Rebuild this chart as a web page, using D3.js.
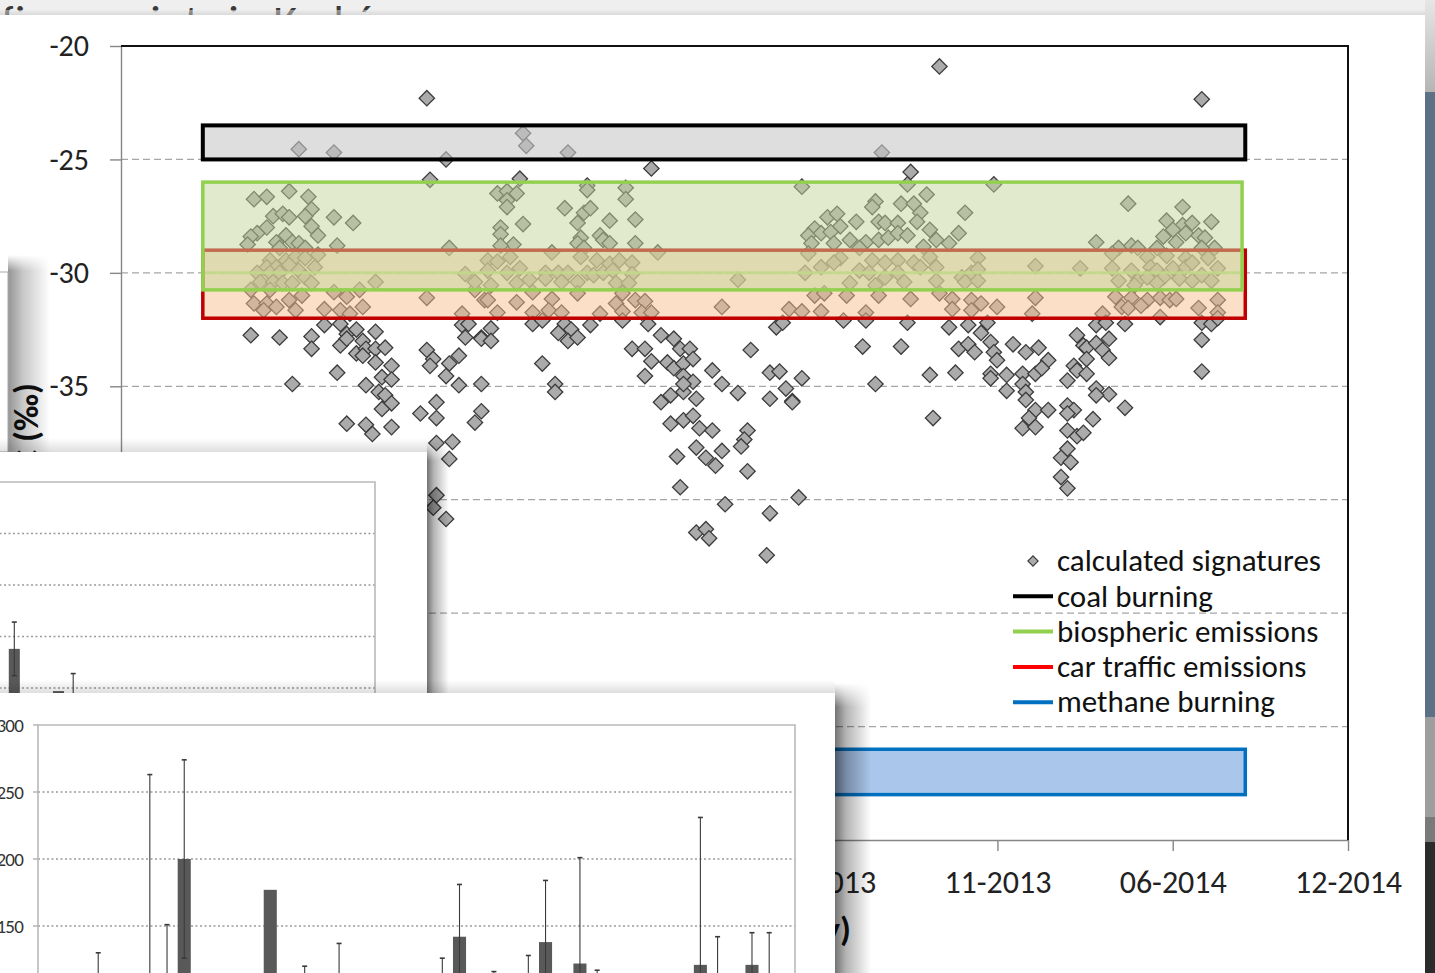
<!DOCTYPE html>
<html><head><meta charset="utf-8">
<script src="https://cdn.jsdelivr.net/npm/d3@7"></script>
<style>
html,body{margin:0;padding:0;background:#efefef;overflow:hidden}
svg{display:block}
text{font-family:Carlito,Calibri,Lato,sans-serif}
</style></head><body>
<svg id="page" width="1435" height="973"></svg>
<script>
// ---------------- data ----------------
const yTicks = [-20, -25, -30, -35, -40, -45, -50, -55];
const xTickDates = ["2011-02-19", "2011-09-07", "2012-03-25", "2012-10-11",
                    "2013-04-29", "2013-11-15", "2014-06-03", "2014-12-20"];

// calculated source signatures: [decimal year, δ13C ‰]
const signatures = [
 [2012.09,-22.3],[2011.69,-24.55],[2011.80,-24.7],[2012.15,-25.0],[2012.10,-25.9],
 [2011.55,-26.75],[2011.59,-26.65],[2011.66,-26.4],[2011.72,-26.65],[2011.73,-27.2],[2011.61,-27.5],[2011.64,-27.4],[2011.66,-27.55],[2011.71,-27.5],[2011.73,-27.95],[2011.75,-28.35],[2011.80,-27.55],[2011.86,-27.8],[2011.59,-28.0],[2011.56,-28.25],[2011.54,-28.4],[2011.53,-28.75],[2011.65,-28.35],[2011.62,-28.65],[2011.67,-28.65],[2011.69,-28.7],[2011.71,-28.9],[2011.81,-28.8],[2011.63,-28.9],[2012.16,-28.9],
 [2011.75,-29.2],[2011.60,-29.45],[2011.65,-29.45],[2011.68,-29.3],[2011.71,-29.35],[2011.59,-29.75],[2011.62,-29.75],[2011.66,-29.65],[2011.69,-29.9],[2011.74,-29.75],[2011.56,-30.0],[2011.60,-30.0],[2011.63,-30.0],[2011.71,-30.2],[2011.93,-30.4],[2012.21,-30.05],[2011.57,-30.4],[2011.61,-30.4],[2011.64,-30.45],[2011.67,-30.45],[2011.73,-30.45],[2011.54,-30.75],[2011.60,-30.75],[2011.80,-30.85],[2011.88,-30.75],[2012.24,-30.75],
 [2011.55,-31.35],[2011.59,-31.35],[2011.62,-31.5],[2011.66,-31.2],[2011.68,-31.65],[2011.58,-31.65],[2011.70,-31.0],[2011.77,-31.6],[2011.82,-31.65],[2011.84,-31.05],[2011.89,-31.5],[2011.85,-31.8],[2012.09,-31.1],[2012.20,-31.8],[2012.27,-31.2],
 [2011.54,-32.75],[2011.63,-32.85],[2011.73,-32.8],[2011.73,-33.35],[2011.77,-32.3],[2011.82,-32.25],[2011.84,-32.7],[2011.87,-32.5],[2011.82,-33.2],[2011.84,-32.9],[2011.93,-32.6],[2011.89,-33.0],[2011.87,-33.55],[2011.90,-33.35],[2011.93,-33.35],[2011.96,-33.3],[2011.89,-33.65],[2011.93,-33.95],[2011.98,-34.1],[2011.81,-34.4],[2011.95,-34.6],[2011.98,-34.7],[2011.67,-34.9],[2011.90,-34.95],[2011.94,-35.25],[2011.96,-35.4],[2011.98,-35.75],[2011.95,-36.0],[2011.84,-36.65],[2011.90,-36.7],[2011.92,-37.1],[2011.98,-36.8],[2012.07,-36.2],[2012.12,-35.7],[2012.12,-36.4],[2012.24,-36.6],[2012.26,-36.1],[2012.12,-37.5],[2012.17,-37.45],[2012.16,-38.2],
 [2012.09,-33.4],[2012.11,-33.8],[2012.10,-34.1],[2012.16,-34.0],[2012.19,-33.65],[2012.15,-34.55],[2012.19,-34.95],[2012.26,-34.9],[2012.20,-32.3],[2012.21,-32.85],[2012.26,-32.85],
 [2012.12,-39.8],[2012.11,-40.35],[2012.15,-40.85],
 [2012.39,-23.85],[2012.40,-24.4],[2012.53,-24.7],[2012.79,-25.4],[2012.38,-25.85],[2012.59,-26.15],[2012.71,-26.25],[2012.31,-26.5],[2012.34,-26.4],[2012.37,-26.5],[2012.34,-26.8],[2012.34,-27.1],[2012.59,-26.35],[2012.71,-26.75],[2012.52,-27.15],[2012.58,-27.35],[2012.60,-27.15],[2012.39,-27.85],[2012.56,-27.8],[2012.66,-27.7],[2012.74,-27.65],[2012.32,-28.0],[2012.32,-28.3],[2012.57,-28.45],[2012.63,-28.35],[2012.64,-28.55],[2012.66,-28.7],[2012.36,-28.75],[2012.32,-28.8],[2012.56,-28.7],[2012.74,-28.7],
 [2012.48,-29.1],[2012.81,-29.1],[2012.58,-28.9],[2012.28,-29.45],[2012.31,-29.5],[2012.35,-29.3],[2012.57,-29.3],[2012.62,-29.45],[2012.66,-29.6],[2012.69,-29.45],[2012.73,-29.55],[2012.28,-29.9],[2012.34,-30.0],[2012.38,-29.8],[2012.46,-30.0],[2012.50,-30.0],[2012.53,-30.0],[2012.59,-30.0],[2012.61,-30.1],[2012.64,-30.0],[2012.67,-29.9],[2012.73,-30.05],[2012.41,-30.3],[2012.46,-30.25],[2012.51,-30.4],[2012.56,-30.4],[2012.68,-30.45],[2012.72,-30.45],[2013.06,-30.3],[2012.24,-30.4],[2012.29,-30.55],[2012.37,-30.45],
 [2012.42,-30.85],[2012.56,-30.9],[2012.70,-30.9],[2012.28,-31.2],[2012.37,-31.3],[2012.48,-31.15],[2012.68,-31.35],[2012.74,-31.2],[2012.77,-31.25],[2013.01,-31.5],[2013.22,-31.6],[2012.31,-31.75],[2012.42,-31.75],[2012.47,-31.65],[2012.51,-31.75],[2012.63,-31.8],[2012.70,-31.7],[2012.76,-31.75],[2012.79,-31.75],
 [2012.22,-32.25],[2012.29,-32.45],[2012.42,-32.25],[2012.45,-32.1],[2012.52,-32.25],[2012.50,-32.65],[2012.54,-32.5],[2012.53,-33.0],[2012.56,-32.85],[2012.60,-32.3],[2012.70,-32.1],[2012.78,-32.25],[2012.26,-32.9],[2012.29,-33.0],[2013.18,-32.4],[2013.20,-32.2],
 [2012.82,-32.75],[2012.86,-32.9],[2012.73,-33.35],[2012.77,-33.35],[2012.88,-33.35],[2012.91,-33.35],[2012.79,-33.9],[2012.84,-33.95],[2012.86,-34.2],[2012.89,-34.0],[2012.92,-33.8],[2012.45,-34.0],[2012.77,-34.55],[2012.89,-34.55],[2012.92,-34.8],[2012.98,-34.3],[2013.01,-34.9],[2013.10,-33.4],[2013.06,-35.3],[2013.16,-34.4],[2013.19,-34.35],[2013.21,-35.1],[2013.16,-35.55],[2013.23,-35.65],[2012.49,-34.9],[2012.49,-35.25],[2012.82,-35.7],[2012.85,-35.4],[2012.89,-35.25],[2012.89,-34.9],[2012.93,-35.55],[2012.85,-36.65],[2012.89,-36.5],[2012.92,-36.3],[2012.94,-36.85],[2012.98,-36.95],[2013.09,-36.95],[2013.08,-37.35],[2013.07,-37.65],[2012.87,-38.1],[2012.93,-37.7],[2012.96,-38.15],[2013.01,-37.85],[2012.99,-38.5],[2013.09,-38.75],[2012.88,-39.45],[2013.02,-40.2],[2013.16,-40.6],[2012.93,-41.45],[2012.96,-41.3],[2012.97,-41.7],[2013.15,-42.45],[2013.25,-39.9],
 [2013.69,-20.9],[2013.51,-24.7],[2013.60,-25.55],[2013.59,-26.1],[2013.26,-26.2],[2013.86,-26.1],[2013.65,-26.55],[2013.49,-26.85],[2013.57,-26.95],[2013.61,-26.95],[2013.77,-27.35],[2013.34,-27.55],[2013.37,-27.4],[2013.43,-27.75],[2013.48,-27.1],[2013.63,-27.35],[2013.62,-27.75],[2013.38,-27.95],[2013.50,-27.75],[2013.52,-27.8],[2013.56,-27.8],[2013.30,-28.05],[2013.28,-28.35],[2013.32,-28.25],[2013.35,-28.2],[2013.66,-28.1],[2013.75,-28.25],[2013.41,-28.55],[2013.46,-28.65],[2013.50,-28.55],[2013.53,-28.45],[2013.56,-28.25],[2013.59,-28.35],[2013.68,-28.55],[2013.72,-28.7],[2013.29,-28.7],[2013.36,-28.7],[2013.44,-28.9],[2013.64,-28.85],
 [2013.28,-29.15],[2013.38,-29.35],[2013.48,-29.45],[2013.56,-29.45],[2013.66,-29.3],[2013.81,-29.35],[2013.32,-29.75],[2013.36,-29.55],[2013.44,-29.9],[2013.52,-29.55],[2013.61,-29.55],[2013.63,-29.75],[2013.68,-29.75],[2013.99,-29.7],[2014.13,-29.8],[2013.27,-30.0],[2013.47,-30.0],[2013.52,-30.2],[2013.56,-30.0],[2013.76,-30.2],[2013.79,-30.0],[2013.81,-29.85],[2013.41,-30.45],[2013.49,-30.55],[2013.58,-30.4],[2013.68,-30.35],[2013.77,-30.4],[2013.81,-30.35],
 [2013.30,-31.0],[2013.33,-30.9],[2013.40,-31.0],[2013.50,-31.0],[2013.60,-31.15],[2013.69,-30.9],[2013.73,-31.15],[2013.79,-31.2],[2013.82,-31.35],[2013.87,-31.5],[2013.99,-31.1],[2013.26,-31.7],[2013.32,-31.7],[2013.46,-31.75],[2013.73,-31.6],[2013.79,-31.65],[2013.98,-31.8],[2013.39,-32.1],[2013.46,-32.1],[2013.59,-32.2],
 [2013.72,-32.4],[2013.78,-32.3],[2013.84,-32.2],[2013.82,-32.65],[2013.45,-33.25],[2013.57,-33.25],[2013.75,-33.35],[2013.78,-33.15],[2013.80,-33.5],[2013.85,-33.05],[2013.86,-33.5],[2013.92,-33.15],[2013.96,-33.5],[2014.00,-33.3],[2014.03,-33.85],[2014.12,-32.75],[2014.14,-33.2],[2013.87,-33.85],[2013.66,-34.5],[2013.74,-34.4],[2013.85,-34.45],[2013.90,-34.5],[2013.95,-34.45],[2013.99,-34.45],[2014.01,-34.2],[2013.85,-34.65],[2014.11,-34.1],[2014.12,-34.3],[2014.09,-34.75],[2013.26,-34.65],[2013.49,-34.9],[2013.23,-35.7],[2013.90,-35.2],[2013.95,-34.9],[2013.96,-35.25],[2013.96,-35.6],[2013.67,-36.4],[2013.99,-36.05],[2014.03,-36.05],[2013.97,-36.4],[2013.95,-36.85],[2013.99,-36.8],[2014.09,-35.85],[2014.11,-36.05],[2014.09,-36.95],[2014.12,-37.2],[2014.14,-37.05],[2014.09,-37.75],[2014.07,-38.15],[2014.10,-38.35],[2014.07,-39.0],
 [2014.51,-22.35],[2014.28,-26.95],[2014.45,-27.1],[2014.40,-27.7],[2014.54,-27.75],[2014.45,-27.9],[2014.48,-27.8],[2014.42,-28.1],[2014.39,-28.4],[2014.46,-28.25],[2014.50,-28.35],[2014.52,-28.45],[2014.18,-28.65],[2014.25,-28.9],[2014.29,-28.8],[2014.31,-28.9],[2014.37,-28.9],[2014.43,-28.65],[2014.55,-28.9],[2014.51,-28.9],
 [2014.23,-29.15],[2014.34,-29.3],[2014.40,-29.25],[2014.46,-29.35],[2014.53,-29.35],[2014.23,-29.8],[2014.29,-29.9],[2014.35,-29.75],[2014.37,-29.9],[2014.42,-29.8],[2014.46,-29.75],[2014.48,-29.55],[2014.56,-29.8],[2014.25,-30.35],[2014.31,-30.35],[2014.34,-30.2],[2014.39,-30.2],[2014.44,-30.25],[2014.48,-30.35],[2014.51,-30.1],[2014.54,-30.35],[2014.30,-30.55],[2014.37,-30.45],
 [2014.24,-31.05],[2014.29,-31.1],[2014.34,-31.2],[2014.38,-31.1],[2014.41,-31.2],[2014.43,-31.15],[2014.56,-31.2],[2014.26,-31.5],[2014.28,-31.55],[2014.32,-31.45],[2014.50,-31.55],[2014.56,-31.75],[2014.20,-31.8],[2014.38,-31.95],
 [2014.18,-32.3],[2014.21,-32.2],[2014.27,-32.25],[2014.51,-32.2],[2014.54,-32.25],[2014.56,-32.0],[2014.15,-33.3],[2014.18,-33.1],[2014.22,-32.9],[2014.51,-32.95],[2014.20,-33.4],[2014.22,-33.75],[2014.15,-33.8],[2014.15,-34.45],[2014.51,-34.35],[2014.18,-35.1],[2014.22,-35.35],[2014.27,-35.95],[2014.18,-35.4],[2014.17,-36.45],[2014.09,-36.2],[2014.09,-39.5]
];

// emission source ranges (δ13C ‰) and the period they are drawn over (decimal years)
const sourceNames = ["coal burning", "biospheric emissions", "car traffic emissions", "methane burning"];
const sourceHigh  = [-23.5, -26.0, -29.0, -51.0];
const sourceLow   = [-25.0, -30.75, -32.0, -53.0];
const sourceFrom  = [2011.39, 2011.39, 2011.39, 2011.39];
const sourceTo    = [2014.646, 2014.636, 2014.646, 2014.646];
const bandMidline = -30;

// inset bar charts (slot index, bar value, error)
const insetASlots  = [2, 5, 6];
const insetAValues = [138, 97, 80];
const insetAErrors = [26, 0, 34];
const insetBSlots  = [3, 6, 7, 8, 13, 15, 17, 23, 24, 26, 28, 29, 31, 32, 38, 39, 41, 42];
const insetBValues = [85, 100, 95, 200, 177, 90, 95, 90, 142, 80, 95, 138, 122, 85, 121, 100, 121, 105];
const insetBErrors = [45, 163, 56, 74, 0, 30, 42, 36, 39, 36, 33, 46, 79, 32, 110, 42, 24, 40];
const insetTicks = [300, 250, 200, 150, 100];

// ---------------- helpers ----------------
const svg = d3.select("#page");
const defs = svg.append("defs");
const parseDate = d3.utcParse("%Y-%m-%d");
function yearToDate(y) {
  const yr = Math.floor(y), a = Date.UTC(yr, 0, 1), b = Date.UTC(yr + 1, 0, 1);
  return new Date(a + (y - yr) * (b - a));
}
function linGrad(id, x1, y1, x2, y2, stops) {
  const g = defs.append("linearGradient").attr("id", id)
    .attr("x1", x1).attr("y1", y1).attr("x2", x2).attr("y2", y2);
  stops.forEach(([o, c, a]) => g.append("stop").attr("offset", o).attr("stop-color", c).attr("stop-opacity", a));
}
linGrad("shR", 0, 0, 1, 0, [[0, "#000", 0.55], [0.3, "#000", 0.3], [1, "#000", 0]]);
linGrad("shL", 0, 0, 1, 0, [[0, "#000", 0.42], [0.35, "#000", 0.22], [1, "#000", 0]]);
linGrad("shT", 0, 1, 0, 0, [[0, "#000", 0.13], [1, "#000", 0]]);
linGrad("edgeTop", 0, 0, 0, 1, [[0, "#e9e9e9", 1], [1, "#bdbdbd", 1]]);
linGrad("stripTop", 0, 0, 0, 1, [[0, "#e6e6e6", 1], [1, "#b5b5b5", 1]]);
linGrad("fadeV", 0, 0, 0, 1, [[0, "#fff", 0], [0.08, "#fff", 1], [1, "#fff", 1]]);
const fadeMask = defs.append("mask").attr("id", "fadeTop").attr("maskContentUnits", "objectBoundingBox");
fadeMask.append("rect").attr("x", 0).attr("y", 0).attr("width", 1).attr("height", 1).attr("fill", "url(#fadeV)");

// ---------------- slide backdrop ----------------
svg.append("rect").attr("x", 0).attr("y", 0).attr("width", 1435).attr("height", 973).attr("fill", "#efefef");
const strip = svg.append("g");
strip.append("rect").attr("x", 1425).attr("y", 0).attr("width", 10).attr("height", 92).attr("fill", "url(#stripTop)");
strip.append("rect").attr("x", 1425).attr("y", 92).attr("width", 10).attr("height", 625).attr("fill", "#5d7186");
strip.append("rect").attr("x", 1425).attr("y", 717).attr("width", 10).attr("height", 100).attr("fill", "#9e9e9e");
strip.append("rect").attr("x", 1425).attr("y", 817).attr("width", 10).attr("height", 25).attr("fill", "#7a7a7a");
strip.append("rect").attr("x", 1425).attr("y", 842).attr("width", 10).attr("height", 131).attr("fill", "#2b2b2b");

svg.append("text").attr("x", 410).attr("y", 37).attr("text-anchor", "end")
  .attr("font-size", 46).attr("fill", "#3a3a3a").text("CO₂ source fingerprints in Kraków");

svg.append("rect").attr("x", -5).attr("y", 10).attr("width", 1430).attr("height", 6).attr("fill", "url(#edgeTop)").attr("opacity", 0.5);
svg.append("rect").attr("x", -5).attr("y", 15).attr("width", 1430).attr("height", 965).attr("fill", "#fff");

// ---------------- main chart ----------------
const X = d3.scaleUtc()
  .domain([parseDate(xTickDates[0]), parseDate(xTickDates[xTickDates.length - 1])])
  .range([121, 1348]);
const Y = d3.scaleLinear().domain([-55, -20]).range([840, 46]);
const main = svg.append("g");

// dashed gridlines
main.append("g").selectAll("line").data(yTicks.filter(v => v > -55 && v < -20)).join("line")
  .attr("x1", 121).attr("x2", 1348).attr("y1", d => Y(d)).attr("y2", d => Y(d))
  .attr("stroke", "#a6a6a6").attr("stroke-width", 1.3).attr("stroke-dasharray", "7,4");

// axes
const yAxis = main.append("g").attr("transform", "translate(121,0)")
  .call(d3.axisLeft(Y).tickValues(yTicks).tickSize(11).tickSizeOuter(0).tickPadding(21).tickFormat(d => String(d)));
const xAxis = main.append("g").attr("transform", "translate(0,840)")
  .call(d3.axisBottom(X).tickValues(xTickDates.map(parseDate)).tickSize(11).tickSizeOuter(0)
    .tickPadding(19).tickFormat(d3.utcFormat("%m-%Y")));
[yAxis, xAxis].forEach(a => {
  a.select(".domain").attr("stroke", "#868686").attr("stroke-width", 1.4);
  a.selectAll(".tick line").attr("stroke", "#868686").attr("stroke-width", 1.4);
  a.selectAll(".tick text").attr("fill", "#222").attr("font-family", "Carlito,Calibri,Lato,sans-serif");
});
yAxis.selectAll(".tick text").attr("font-size", 30);
xAxis.selectAll(".tick text").attr("font-size", 32);

// signature points
const diamond = d3.symbol(d3.symbolSquare, 118);
main.append("g").selectAll("path").data(signatures).join("path")
  .attr("d", diamond)
  .attr("transform", d => `translate(${X(yearToDate(d[0]))},${Y(d[1])}) rotate(45)`)
  .attr("fill", "#ababab").attr("stroke", "#3c3c3c").attr("stroke-width", 1.3);

// source ranges
const boxStyle = [
  {fill: "#c8c8c8", op: 0.6, stroke: "#000000", sw: 4},
  {fill: "#c3d69b", op: 0.5, stroke: "#92d050", sw: 3.5},
  {fill: "#fabf8f", op: 0.5, stroke: "#c00000", sw: 3.5},
  {fill: "#558ed5", op: 0.5, stroke: "#0070c0", sw: 3.5}
];
const legendStroke = ["#000000", "#92d050", "#ff0000", "#0070c0"];
const boxOrder = [2, 1, 0, 3];
const boxes = main.append("g");
boxOrder.forEach(i => {
  const x0 = X(yearToDate(sourceFrom[i])), x1 = X(yearToDate(sourceTo[i]));
  const y0 = Y(sourceHigh[i]), y1 = Y(sourceLow[i]);
  boxes.append("rect").attr("x", x0).attr("y", y0).attr("width", x1 - x0).attr("height", y1 - y0)
    .attr("fill", boxStyle[i].fill).attr("fill-opacity", boxStyle[i].op)
    .attr("stroke", boxStyle[i].stroke).attr("stroke-width", boxStyle[i].sw);
});
main.append("line")
  .attr("x1", X(yearToDate(sourceFrom[1])) + 2).attr("x2", X(yearToDate(sourceTo[1])) - 2)
  .attr("y1", Y(bandMidline)).attr("y2", Y(bandMidline))
  .attr("stroke", "#c2d98a").attr("stroke-width", 3).attr("opacity", 0.85);

// plot frame (top and right)
main.append("path").attr("d", `M121,${Y(-20)}H1348V840`).attr("fill", "none")
  .attr("stroke", "#111").attr("stroke-width", 2);

// legend
const legend = main.append("g").attr("transform", "translate(1013,561)");
const rowH = 35.3;
legend.append("path").attr("d", d3.symbol(d3.symbolSquare, 52))
  .attr("transform", "translate(20,0) rotate(45)")
  .attr("fill", "#ababab").attr("stroke", "#3c3c3c").attr("stroke-width", 1.2);
legend.append("text").attr("x", 44).attr("y", 0).attr("dy", "0.33em")
  .attr("font-size", 31).attr("fill", "#111").text("calculated signatures");
sourceNames.forEach((n, i) => {
  const ly = (i + 1) * rowH;
  legend.append("line").attr("x1", 0).attr("x2", 40).attr("y1", ly).attr("y2", ly)
    .attr("stroke", legendStroke[i]).attr("stroke-width", 4);
  legend.append("text").attr("x", 44).attr("y", ly).attr("dy", "0.33em")
    .attr("font-size", 31).attr("fill", "#111").text(n);
});

// axis titles
main.append("text").attr("transform", "translate(38,383) rotate(-90)").attr("text-anchor", "end")
  .attr("font-size", 35).attr("font-weight", "bold").attr("fill", "#111")
  .html('δ<tspan font-size="23" dy="-12">13</tspan><tspan dy="12">C (‰)</tspan>');
main.append("text").attr("x", 851).attr("y", 941).attr("text-anchor", "end")
  .attr("font-size", 35).attr("font-weight", "bold").attr("fill", "#111").text("date (mm-yyyy)");

// ---------------- overlapping slide panels ----------------
// narrow card at the left edge
svg.append("rect").attr("x", 8).attr("y", 255).attr("width", 42).attr("height", 197)
  .attr("fill", "url(#shL)").attr("mask", "url(#fadeTop)");
svg.append("rect").attr("x", -10).attr("y", 272).attr("width", 18).attr("height", 180)
  .attr("fill", "#fff").attr("stroke", "#a8a8a8").attr("stroke-width", 1);

function barInset(g, xs, ys, slots, values, errors, barFrac) {
  const bw = xs.bandwidth() * barFrac;
  slots.forEach((s, i) => {
    const cx = xs(s) + xs.bandwidth() / 2;
    g.append("rect").attr("x", cx - bw / 2).attr("y", ys(values[i])).attr("width", bw)
      .attr("height", Math.max(0, ys(0) - ys(values[i]))).attr("fill", "#595959");
    if (errors[i] > 0) {
      g.append("line").attr("x1", cx).attr("x2", cx).attr("y1", ys(values[i] + errors[i])).attr("y2", ys(values[i] - errors[i]))
        .attr("stroke", "#3a3a3a").attr("stroke-width", 1.1);
      [values[i] + errors[i], values[i] - errors[i]].forEach(v =>
        g.append("line").attr("x1", cx - 2.5).attr("x2", cx + 2.5).attr("y1", ys(v)).attr("y2", ys(v))
          .attr("stroke", "#3a3a3a").attr("stroke-width", 1.6));
    }
  });
}

// panel A
const pA = svg.append("g");
pA.append("rect").attr("x", -10).attr("y", 438).attr("width", 437).attr("height", 14).attr("fill", "url(#shT)");
pA.append("rect").attr("x", 427).attr("y", 440).attr("width", 22).attr("height", 264)
  .attr("fill", "url(#shR)").attr("mask", "url(#fadeTop)");
pA.append("rect").attr("x", -10).attr("y", 452).attr("width", 437).attr("height", 260).attr("fill", "#fff");
const aX = d3.scaleBand().domain(d3.range(27)).range([-22.5, 375]);
const aY = d3.scaleLinear().domain([100, 300]).range([688, 482]);
pA.append("g").selectAll("line").data(insetTicks.filter(v => v < 300)).join("line")
  .attr("x1", -5).attr("x2", 375).attr("y1", d => aY(d)).attr("y2", d => aY(d))
  .attr("stroke", "#9a9a9a").attr("stroke-width", 1.6).attr("stroke-dasharray", "2,2.5");
pA.append("path").attr("d", `M-5,${aY(300)}H375V710`).attr("fill", "none").attr("stroke", "#b9b9b9").attr("stroke-width", 1.6);
barInset(pA, aX, aY, insetASlots, insetAValues, insetAErrors, 0.75);

// panel B
const pB = svg.append("g");
pB.append("rect").attr("x", -10).attr("y", 680).attr("width", 845).attr("height", 13).attr("fill", "url(#shT)");
pB.append("rect").attr("x", 835).attr("y", 683).attr("width", 36).attr("height", 300)
  .attr("fill", "url(#shR)").attr("mask", "url(#fadeTop)");
pB.append("rect").attr("x", -10).attr("y", 693).attr("width", 845).attr("height", 290).attr("fill", "#fff");
const bX = d3.scaleBand().domain(d3.range(44)).range([38, 795]);
const bY = d3.scaleLinear().domain([100, 300]).range([993, 725]);
pB.append("g").selectAll("line").data(insetTicks.filter(v => v < 300)).join("line")
  .attr("x1", 38).attr("x2", 795).attr("y1", d => bY(d)).attr("y2", d => bY(d))
  .attr("stroke", "#9a9a9a").attr("stroke-width", 1.6).attr("stroke-dasharray", "2,2.5");
pB.append("path").attr("d", `M38,990V${bY(300)}H795V990`).attr("fill", "none").attr("stroke", "#b9b9b9").attr("stroke-width", 1.6);
pB.append("g").selectAll("line").data(insetTicks).join("line")
  .attr("x1", 33).attr("x2", 38).attr("y1", d => bY(d)).attr("y2", d => bY(d)).attr("stroke", "#b0b0b0").attr("stroke-width", 1.4);
pB.append("g").selectAll("text").data(insetTicks).join("text")
  .attr("x", 23).attr("y", d => bY(d)).attr("dy", "0.35em").attr("text-anchor", "end")
  .attr("font-size", 19).attr("letter-spacing", -0.8).attr("fill", "#333").text(d => d);
barInset(pB, bX, bY, insetBSlots, insetBValues, insetBErrors, 0.76);
</script>
</body></html>
